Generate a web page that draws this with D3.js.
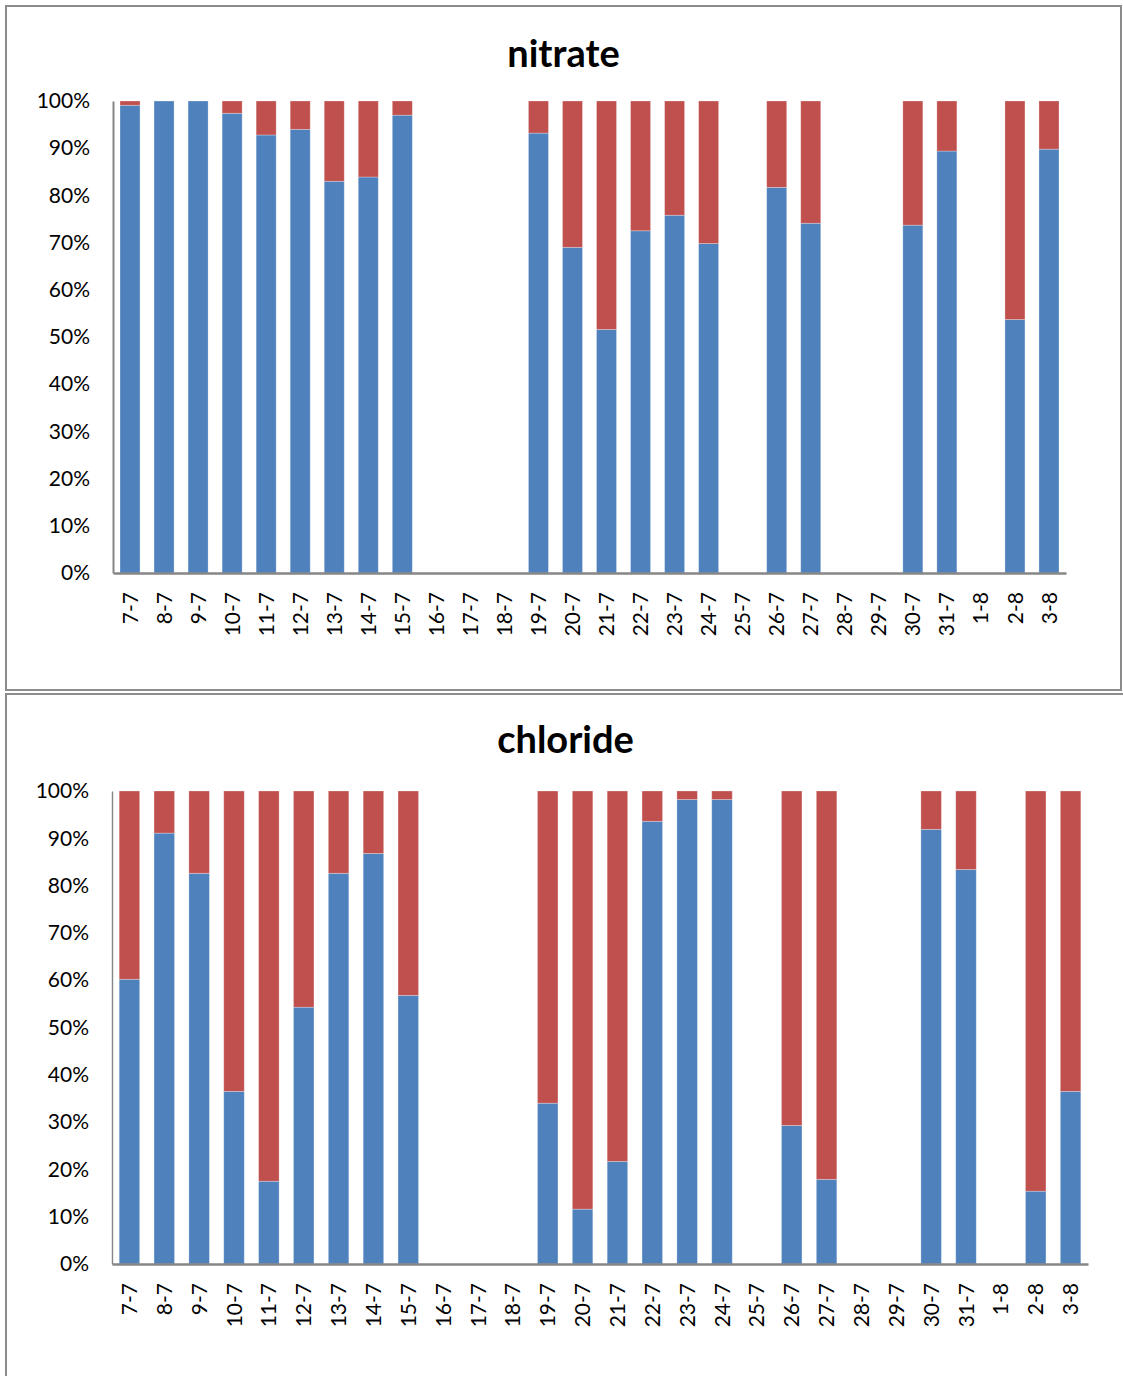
<!DOCTYPE html>
<html>
<head>
<meta charset="utf-8">
<script src="https://cdn.jsdelivr.net/npm/d3@7"></script>
<style>
  body { margin: 0; background: #fff; }
  svg { display: block; }
  text { font-family: Lato, "Open Sans", sans-serif; fill: #000; }
</style>
</head>
<body>
<svg id="chart" width="1123" height="1376"></svg>
<script>
// Sampling days (day-month)
const days = ["7-7", "8-7", "9-7", "10-7", "11-7", "12-7", "13-7", "14-7", "15-7",
  "16-7", "17-7", "18-7", "19-7", "20-7", "21-7", "22-7", "23-7", "24-7", "25-7",
  "26-7", "27-7", "28-7", "29-7", "30-7", "31-7", "1-8", "2-8", "3-8"];

// Nitrate shares (%), null = no sample that day
const nitrateBlue = [99.1, 100, 100, 97.4, 92.8, 94.0, 83.0, 83.9, 97.0, null, null, null,
  93.2, 69.0, 51.6, 72.5, 75.8, 69.8, null, 81.7, 74.1, null, null, 73.7, 89.4, null, 53.7, 89.8];
const nitrateRed = [0.9, 0, 0, 2.6, 7.2, 6.0, 17.0, 16.1, 3.0, null, null, null,
  6.8, 31.0, 48.4, 27.5, 24.2, 30.2, null, 18.3, 25.9, null, null, 26.3, 10.6, null, 46.3, 10.2];

// Chloride shares (%)
const chlorideBlue = [60.2, 91.1, 82.6, 36.5, 17.5, 54.3, 82.6, 86.8, 56.8, null, null, null,
  34.0, 11.6, 21.7, 93.6, 98.2, 98.2, null, 29.3, 17.9, null, null, 91.9, 83.4, null, 15.4, 36.5];
const chlorideRed = [39.8, 8.9, 17.4, 63.5, 82.5, 45.7, 17.4, 13.2, 43.2, null, null, null,
  66.0, 88.4, 78.3, 6.4, 1.8, 1.8, null, 70.7, 82.1, null, null, 8.1, 16.6, null, 84.6, 63.5];

const yTicks = [0, 0.1, 0.2, 0.3, 0.4, 0.5, 0.6, 0.7, 0.8, 0.9, 1.0];
const seriesKeys = ["blue", "red"];
const colors = { blue: "#4F81BD", red: "#C0504D" };

const svg = d3.select("#chart");

const panels = [
  { title: "nitrate", blue: nitrateBlue, red: nitrateRed,
    frame: { x: 6, y: 6, w: 1115, h: 684 },
    plot: { x0: 113, x1: 1066, y0: 101, y1: 573 }, titleY: 67, yAxisW: 2 },
  { title: "chloride", blue: chlorideBlue, red: chlorideRed,
    frame: { x: 6, y: 694, w: 1125, h: 700 },
    plot: { x0: 112, x1: 1088, y0: 791, y1: 1264 }, titleY: 753, yAxisW: 1.4 }
];

panels.forEach(p => {
  const g = svg.append("g");

  // chart frame
  g.append("rect")
    .attr("x", p.frame.x).attr("y", p.frame.y)
    .attr("width", p.frame.w).attr("height", p.frame.h)
    .attr("fill", "#fff").attr("stroke", "#8c8c8c").attr("stroke-width", 2);

  // title
  g.append("text")
    .attr("x", (p.frame.x + Math.min(p.frame.x + p.frame.w, 1125)) / 2)
    .attr("y", p.titleY)
    .attr("text-anchor", "middle")
    .style("font-weight", "bold")
    .style("font-size", "38px")
    .text(p.title);

  const x = d3.scaleBand()
    .domain(days)
    .range([p.plot.x0, p.plot.x1])
    .paddingInner(0.7 / 1.7)
    .paddingOuter(0.35 / 1.7);

  const y = d3.scaleLinear().domain([0, 1]).range([p.plot.y1, p.plot.y0]);

  const rows = days.map((d, i) => ({ day: d, blue: p.blue[i], red: p.red[i] }))
    .filter(r => r.blue !== null && r.red !== null);

  const stacked = d3.stack().keys(seriesKeys).offset(d3.stackOffsetExpand)(rows);

  g.append("g").selectAll("g")
    .data(stacked)
    .join("g")
      .attr("fill", s => colors[s.key])
    .selectAll("rect")
    .data(s => s.filter(v => v[1] - v[0] > 0))
    .join("rect")
      .attr("x", v => x(v.data.day))
      .attr("width", x.bandwidth())
      .attr("y", v => y(v[1]))
      .attr("height", v => y(v[0]) - y(v[1]))
      .attr("stroke", "#ffffff")
      .attr("stroke-opacity", 0.35)
      .attr("stroke-width", 0.8);

  // y axis
  const yAxis = g.append("g")
    .attr("transform", `translate(${p.plot.x0},0)`)
    .call(d3.axisLeft(y).tickValues(yTicks).tickFormat(d3.format(".0%"))
      .tickSize(0).tickSizeOuter(0).tickPadding(23));
  yAxis.select(".domain").attr("stroke", "#868686").attr("stroke-width", p.yAxisW);
  yAxis.selectAll("text")
    .style("font-size", "21px")
    .style("font-family", "Lato, sans-serif")
    .attr("fill", "#000");

  // x axis
  const xAxis = g.append("g")
    .attr("transform", `translate(0,${p.plot.y1})`)
    .call(d3.axisBottom(x).tickSize(0).tickSizeOuter(0));
  xAxis.select(".domain").attr("stroke", "#868686").attr("stroke-width", 2.5);
  xAxis.selectAll("text")
    .attr("transform", "rotate(-90)")
    .attr("text-anchor", "end")
    .attr("x", -19)
    .attr("y", 0)
    .attr("dy", "0.36em")
    .style("font-size", "21px")
    .style("font-family", "Lato, sans-serif")
    .attr("fill", "#000");
});
</script>
</body>
</html>
